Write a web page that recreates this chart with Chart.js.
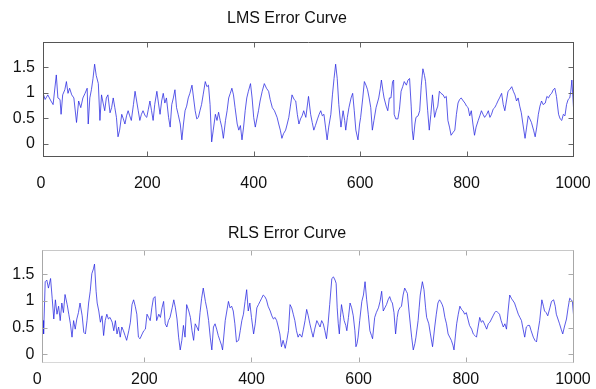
<!DOCTYPE html>
<html><head><meta charset="utf-8">
<script src="https://cdn.jsdelivr.net/npm/chart.js@4/dist/chart.umd.min.js"></script>
<style>
html,body{margin:0;padding:0;background:#fff;}
#w{position:relative;width:596px;height:389px;overflow:hidden;}
.c{position:absolute;left:0;width:596px;}
</style></head><body>
<div id="w">
<div class="c" style="top:0;height:195px"><canvas id="c1"></canvas></div>
<div class="c" style="top:195px;height:194px"><canvas id="c2"></canvas></div>
</div>
<script>
const titles = ["LMS Error Curve", "RLS Error Curve"];
const xTicks = [0, 200, 400, 600, 800, 1000];
const yTicks = [0, 0.5, 1, 1.5];

const lmsX = [0,3,8,13,19,23,29,32,36,38,41,45,48,51,54,58,62,67,71,75,79,83,87,89,92,95,98,101,104,108,
111,114,117,120,123,126,130,133,136,139,142,145,148,152,155,158,161,164,167,170,174,177,180,183,186,189,192,196,199,202,
205,208,211,214,218,221,224,227,230,233,236,240,243,246,249,252,255,258,262,265,268,271,274,277,280,284,287,290,293,296,
299,302,305,309,312,315,318,321,324,328,331,334,337,340,343,347,350,353,356,359,362,365,369,372,375,378,381,384,387,390,
394,397,400,403,406,409,412,416,420,424,428,431,435,439,444,447,450,453,456,460,463,466,469,472,476,479,482,485,488,491,
494,498,503,507,510,513,516,520,523,526,529,532,535,538,541,545,548,551,554,557,560,564,568,571,573,576,579,583,586,589,
592,596,599,601,605,608,611,614,617,620,623,626,630,635,638,640,643,645,649,652,655,658,661,663,664,667,671,674,677,680,
683,687,690,693,696,698,700,703,705,709,712,715,718,721,723,727,730,733,736,740,743,746,749,752,756,759,762,765,768,771,
775,778,781,784,787,790,794,797,800,803,806,809,812,815,818,822,825,828,831,834,838,841,844,847,850,853,856,859,862,866,
869,872,875,878,881,885,888,891,894,897,900,903,906,910,913,916,919,922,926,929,932,935,938,941,944,948,951,954,957,960,
963,966,969,973,976,979,982,985,988,991,994,996,998,1000,1002];
const lmsY = [1.44,1.03,0.87,0.96,0.84,0.77,1.35,0.90,0.87,0.58,0.96,1.06,1.22,0.99,1.09,0.96,0.90,0.42,0.84,0.71,
0.90,0.99,1.09,0.39,0.90,1.06,1.28,1.56,1.34,1.18,0.46,0.96,0.80,0.65,0.90,0.96,0.61,0.71,0.90,0.71,
0.52,0.14,0.27,0.58,0.49,0.39,0.55,0.65,0.55,0.46,0.77,1.03,0.84,0.65,0.46,0.58,0.65,0.55,0.52,0.68,
0.84,0.65,0.46,0.77,1.03,0.80,0.58,0.84,0.99,0.80,0.90,0.52,0.33,0.77,0.90,1.06,0.71,0.58,0.39,0.08,
0.39,0.65,0.74,0.90,0.99,1.15,0.90,0.65,0.49,0.52,0.65,0.77,0.96,1.22,1.12,1.15,0.77,0.04,0.27,0.58,
0.46,0.62,0.46,0.33,0.11,0.46,0.65,0.90,0.99,1.09,0.96,0.71,0.39,0.27,0.36,0.08,0.33,0.65,0.90,1.03,
1.18,0.90,0.52,0.33,0.49,0.65,0.84,1.03,1.18,1.09,1.03,0.87,0.71,0.65,0.52,0.39,0.27,0.11,0.20,0.27,
0.39,0.52,0.74,0.96,0.87,0.84,0.58,0.39,0.49,0.55,0.65,0.52,0.93,0.58,0.42,0.27,0.36,0.49,0.58,0.65,
0.55,0.58,0.33,0.08,0.33,0.58,0.96,1.28,1.56,1.28,0.77,0.33,0.65,0.46,0.27,0.52,0.71,0.90,0.99,0.65,
0.27,0.08,0.39,0.52,0.90,1.22,1.15,1.06,0.90,0.71,0.27,0.46,0.71,0.90,1.09,1.25,1.03,0.90,0.74,0.65,
0.90,0.90,1.22,1.25,0.58,0.49,0.49,0.68,1.03,1.12,1.22,1.15,1.25,1.28,0.74,0.27,0.08,0.39,0.52,0.55,
0.65,1.15,1.47,1.34,1.22,0.65,0.27,0.58,0.96,0.52,0.65,0.74,1.03,0.99,0.96,0.90,0.93,0.46,0.33,0.17,
0.23,0.27,0.58,0.80,0.87,0.90,0.84,0.80,0.74,0.71,0.55,0.65,0.39,0.17,0.33,0.46,0.55,0.65,0.58,0.52,
0.58,0.65,0.52,0.58,0.68,0.71,0.77,0.84,0.90,0.99,0.77,0.65,0.84,1.03,1.06,1.12,1.03,0.96,0.84,0.90,
0.74,0.61,0.39,0.11,0.33,0.55,0.49,0.42,0.27,0.14,0.33,0.58,0.74,0.84,0.77,0.80,0.93,0.90,0.96,0.99,
1.06,1.09,0.93,0.58,0.49,0.46,0.58,0.55,0.77,0.87,0.90,1.03,1.25,0.90,0.55];

const rlsX = [9,11,12,15,18,21,25,28,31,34,37,40,43,46,49,52,56,59,62,65,68,71,74,77,80,84,87,90,93,96,99,
102,105,107,110,112,115,118,121,124,127,130,133,136,140,143,146,149,152,155,158,161,164,167,171,174,177,180,183,186,189,
192,196,199,202,205,208,211,214,217,220,223,227,230,233,236,239,242,245,248,252,255,258,261,264,267,270,273,276,279,283,
286,289,292,295,298,301,304,307,310,314,317,320,323,326,329,332,335,338,341,344,346,351,354,357,360,363,366,369,372,376,
379,382,385,388,391,394,397,400,404,407,410,413,416,419,422,425,428,431,435,438,441,444,447,450,453,456,459,463,466,469,
472,475,478,481,484,487,490,494,497,500,503,506,509,512,515,518,522,525,528,531,534,537,540,543,546,550,553,556,558,560,
562,564,566,568,571,573,576,578,581,584,587,590,593,595,597,599,602,606,609,612,615,618,621,624,626,630,633,637,640,643,
646,649,652,655,658,661,663,666,669,672,674,677,680,683,686,689,691,694,697,699,702,705,707,711,713,715,719,722,725,727,
731,734,738,742,745,748,751,753,756,758,761,764,767,770,773,776,778,781,783,786,789,792,795,798,801,804,807,811,814,817,
820,823,826,829,832,836,839,842,845,848,851,854,857,860,863,866,870,873,876,879,882,885,887,891,894,898,901,904,907,910,
913,916,919,922,926,929,932,935,938,942,945,947,950,953,957,960,964,967,969,972,975,978,981,984,988,991,994,997,999,1002];
const rlsY = [0.55,0.63,0.38,1.36,1.39,1.24,1.42,1.05,0.66,1.02,0.75,0.90,0.63,0.96,0.78,1.12,0.93,0.75,0.57,0.32,0.63,
0.47,0.66,0.78,0.96,0.72,0.41,0.38,0.63,0.96,1.18,1.51,1.60,1.69,1.18,0.96,0.81,0.60,0.72,0.35,0.63,
0.75,0.66,0.69,0.60,0.44,0.63,0.38,0.51,0.32,0.51,0.44,0.35,0.26,0.44,0.60,0.93,1.02,0.90,0.75,0.32,
0.29,0.38,0.44,0.47,0.75,0.69,0.63,0.87,1.05,1.08,0.63,0.75,0.69,0.87,0.99,0.57,0.51,0.63,0.69,0.87,
1.02,0.87,0.66,0.32,0.08,0.26,0.54,0.32,0.93,0.81,0.69,0.44,0.26,0.57,0.51,0.44,0.78,1.05,1.24,0.99,
0.84,0.63,0.32,0.08,0.51,0.57,0.47,0.35,0.26,0.17,0.08,0.63,0.81,0.99,0.87,0.90,0.81,0.57,0.23,0.26,
0.44,0.63,0.75,0.99,1.21,0.81,0.96,0.69,0.38,0.57,0.87,0.93,0.99,1.05,1.11,1.08,1.02,0.90,0.81,0.72,
0.66,0.69,0.63,0.51,0.38,0.14,0.26,0.11,0.26,0.44,0.93,0.87,0.75,0.63,0.44,0.32,0.38,0.32,0.47,0.63,
0.84,0.72,0.57,0.44,0.32,0.47,0.63,0.57,0.51,0.63,0.57,0.44,0.29,0.57,0.93,1.42,1.45,1.39,1.33,0.87,
0.57,0.38,0.69,0.93,0.75,0.63,0.54,0.44,0.69,0.96,0.87,0.72,0.44,0.14,0.20,0.32,0.63,0.99,1.11,1.36,
1.02,0.75,0.44,0.35,0.29,0.69,0.78,0.87,0.99,1.18,0.81,0.87,0.93,1.02,1.08,0.99,0.96,0.78,0.38,0.69,
0.81,0.87,0.90,1.11,1.24,1.18,1.14,0.81,0.51,0.32,0.08,0.20,0.32,0.63,0.87,1.11,1.36,1.21,0.87,0.69,
0.57,0.38,0.14,0.51,0.75,0.96,1.02,0.99,0.93,0.87,0.69,0.57,0.38,0.32,0.26,0.17,0.08,0.38,0.57,0.75,
0.90,0.84,0.81,0.75,0.78,0.66,0.54,0.47,0.38,0.35,0.32,0.51,0.69,0.60,0.63,0.54,0.47,0.57,0.60,0.66,
0.72,0.78,0.81,0.78,0.75,0.63,0.51,0.57,0.47,0.81,1.11,1.05,1.02,0.96,0.87,0.75,0.69,0.63,0.47,0.32,
0.51,0.54,0.54,0.44,0.32,0.26,0.23,0.44,0.63,1.02,0.90,0.81,0.78,0.72,0.87,0.99,1.02,0.90,0.75,0.66,
0.57,0.47,0.38,0.51,0.66,0.87,1.05,1.02,0.99,0.63];

const FONT = "'Liberation Sans Narrow', 'Liberation Sans', Arial, sans-serif";

function framePlugin(colors, tickColor) {
  return {
    id: 'frame',
    afterDraw(chart) {
      const a = chart.chartArea, ctx = chart.ctx;
      const xs = chart.scales.x, ys = chart.scales.y;
      const L = Math.round(a.left) + 0.5, R = Math.round(a.right) - 0.5;
      const T = Math.round(a.top) + 0.5, B = Math.round(a.bottom) - 0.5;
      ctx.save();
      ctx.lineWidth = 1;
      ctx.strokeStyle = tickColor;
      ctx.beginPath();
      xTicks.forEach(v => {
        const p = Math.round(xs.getPixelForValue(v)) + 0.5;
        if (p < L + 1 || p > R + 1) return;
        ctx.moveTo(p, B); ctx.lineTo(p, B - 5);
        ctx.moveTo(p, T); ctx.lineTo(p, T + 5);
      });
      yTicks.forEach(v => {
        const p = Math.round(ys.getPixelForValue(v)) + 0.5;
        ctx.moveTo(L, p); ctx.lineTo(L + 5, p);
        ctx.moveTo(R, p); ctx.lineTo(R - 5, p);
      });
      ctx.stroke();
      const side = (c, x1, y1, x2, y2) => { ctx.strokeStyle = c; ctx.beginPath(); ctx.moveTo(x1, y1); ctx.lineTo(x2, y2); ctx.stroke(); };
      side(colors.top, L - 0.5, T, R + 0.5, T);
      side(colors.bottom, L - 0.5, B, R + 0.5, B);
      side(colors.left, L, T, L, B);
      side(colors.right, R, T, R, B);
      ctx.restore();
    }
  };
}

function makeChart(id, c) {
  const pts = c.xs.map((x, i) => ({ x: x, y: c.ys[i] }));
  return new Chart(document.getElementById(id), {
    type: 'line',
    data: { datasets: [{ data: pts, borderColor: 'rgba(40,40,225,0.85)', borderWidth: 0.9, pointRadius: 0, tension: 0, fill: false }] },
    options: {
      responsive: true, maintainAspectRatio: false, animation: false, devicePixelRatio: 1,
      layout: { padding: { left: 0, right: c.rightPad, top: 0, bottom: 0 } },
      plugins: {
        legend: { display: false }, tooltip: { enabled: false },
        title: { display: true, text: c.title, color: '#111', font: { family: FONT, size: 16, weight: 'normal' }, padding: c.titlePad }
      },
      scales: {
        x: {
          type: 'linear', min: c.xMin, max: c.xMax,
          afterBuildTicks: s => { s.ticks = xTicks.map(v => ({ value: v })); },
          afterFit: s => { s.height = c.xHeight; s.paddingLeft = 0; s.paddingRight = 0; },
          grid: { display: false, drawTicks: false },
          border: { display: false },
          ticks: { autoSkip: false, maxRotation: 0, padding: c.xPad, color: '#111', font: { family: FONT, size: 16 }, callback: v => String(v) }
        },
        y: {
          min: c.yMin, max: c.yMax,
          afterBuildTicks: s => { s.ticks = yTicks.map(v => ({ value: v })); },
          afterFit: s => { s.width = c.yWidth; s.paddingTop = 0; s.paddingBottom = 0; },
          grid: { display: false, drawTicks: false },
          border: { display: false },
          ticks: { padding: c.yPad, color: '#111', font: { family: FONT, size: 16 }, callback: v => String(v) }
        }
      }
    },
    plugins: [framePlugin(c.colors, c.tickColor)]
  });
}

makeChart('c1', {
  title: titles[0], xs: lmsX, ys: lmsY, xMin: 4, xMax: 1002, yMin: -0.255, yMax: 1.99,
  titlePad: { top: 9, bottom: 14 }, xHeight: 38, xPad: 17, yWidth: 43, yPad: 8, rightPad: 22,
  colors: { top: '#555', bottom: '#555', left: '#555', right: '#555' }, tickColor: '#666'
});
makeChart('c2', {
  title: titles[1], xs: rlsX, ys: rlsY, xMin: 9, xMax: 1002, yMin: -0.165, yMax: 1.96,
  titlePad: { top: 28.5, bottom: 7 }, xHeight: 26, xPad: 7, yWidth: 42, yPad: 7.5, rightPad: 22,
  colors: { top: '#c8c8c8', bottom: '#d8d8d8', left: '#a8a8a8', right: '#a8a8a8' }, tickColor: '#aaa'
});
</script>
</body></html>
